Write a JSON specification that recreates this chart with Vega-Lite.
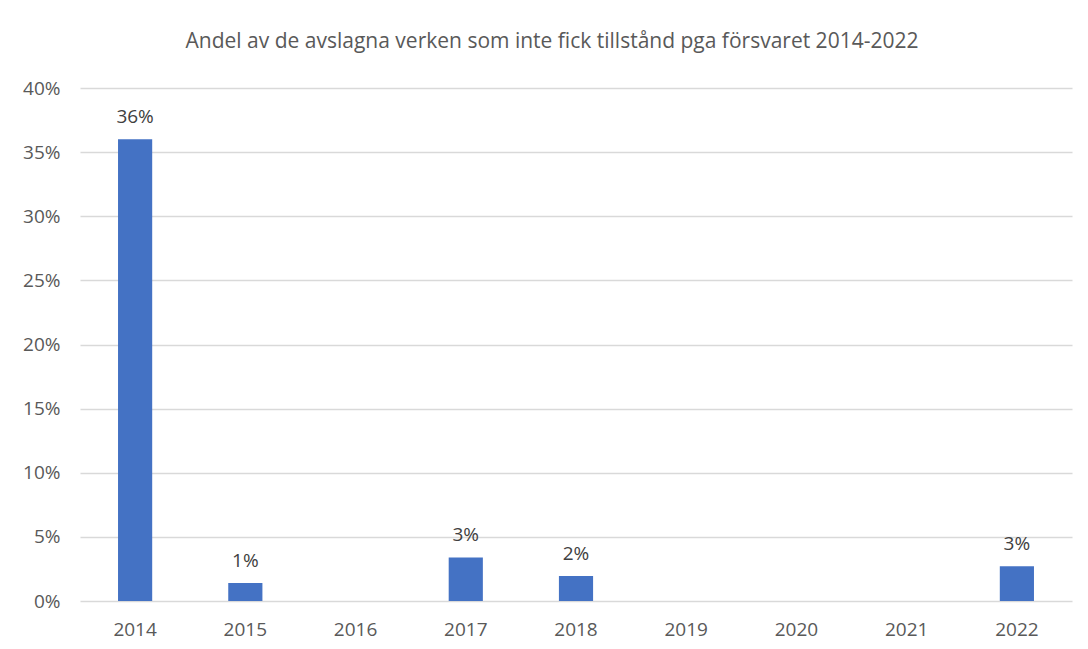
{
  "$schema": "https://vega.github.io/schema/vega-lite/v6.json",
  "width": 992,
  "height": 513,
  "autosize": {"type": "none"},
  "padding": {"left": 80, "top": 88, "right": 16, "bottom": 48},
  "background": "white",
  "title": {
    "text": "Andel av de avslagna verken som inte fick tillstånd pga försvaret 2014-2022",
    "font": "Open Sans",
    "fontSize": 21,
    "fontWeight": "normal",
    "color": "#595959",
    "anchor": "middle",
    "dx": -24,
    "offset": 27
  },
  "data": {
    "values": [
      {"year": "2014", "value": 0.36},
      {"year": "2015", "value": 0.014},
      {"year": "2016", "value": 0},
      {"year": "2017", "value": 0.034},
      {"year": "2018", "value": 0.0195},
      {"year": "2019", "value": 0},
      {"year": "2020", "value": 0},
      {"year": "2021", "value": 0},
      {"year": "2022", "value": 0.027}
    ]
  },
  "encoding": {
    "x": {
      "field": "year",
      "type": "ordinal",
      "title": null,
      "scale": {"paddingInner": 0.69, "paddingOuter": 0.345},
      "axis": {
        "labelAngle": 0,
        "labelFont": "Open Sans",
        "labelFontSize": 19,
        "labelColor": "#595959",
        "labelPadding": 19,
        "ticks": false,
        "domain": false,
        "grid": false
      }
    },
    "y": {
      "field": "value",
      "type": "quantitative",
      "title": null,
      "scale": {"domain": [0, 0.4]},
      "axis": {
        "values": [0, 0.05, 0.1, 0.15, 0.2, 0.25, 0.3, 0.35, 0.4],
        "format": ".0%",
        "labelFont": "Open Sans",
        "labelFontSize": 19,
        "labelColor": "#595959",
        "labelPadding": 20,
        "ticks": false,
        "domain": false,
        "grid": true,
        "gridColor": "#D9D9D9",
        "gridWidth": 1.5
      }
    }
  },
  "layer": [
    {"mark": {"type": "bar", "color": "#4472C4"}},
    {
      "transform": [{"filter": "datum.value > 0"}],
      "mark": {
        "type": "text",
        "font": "Open Sans",
        "fontSize": 19,
        "color": "#404040",
        "baseline": "bottom",
        "dy": -12
      },
      "encoding": {"text": {"field": "value", "type": "quantitative", "format": ".0%"}}
    }
  ],
  "config": {"view": {"stroke": null}}
}
